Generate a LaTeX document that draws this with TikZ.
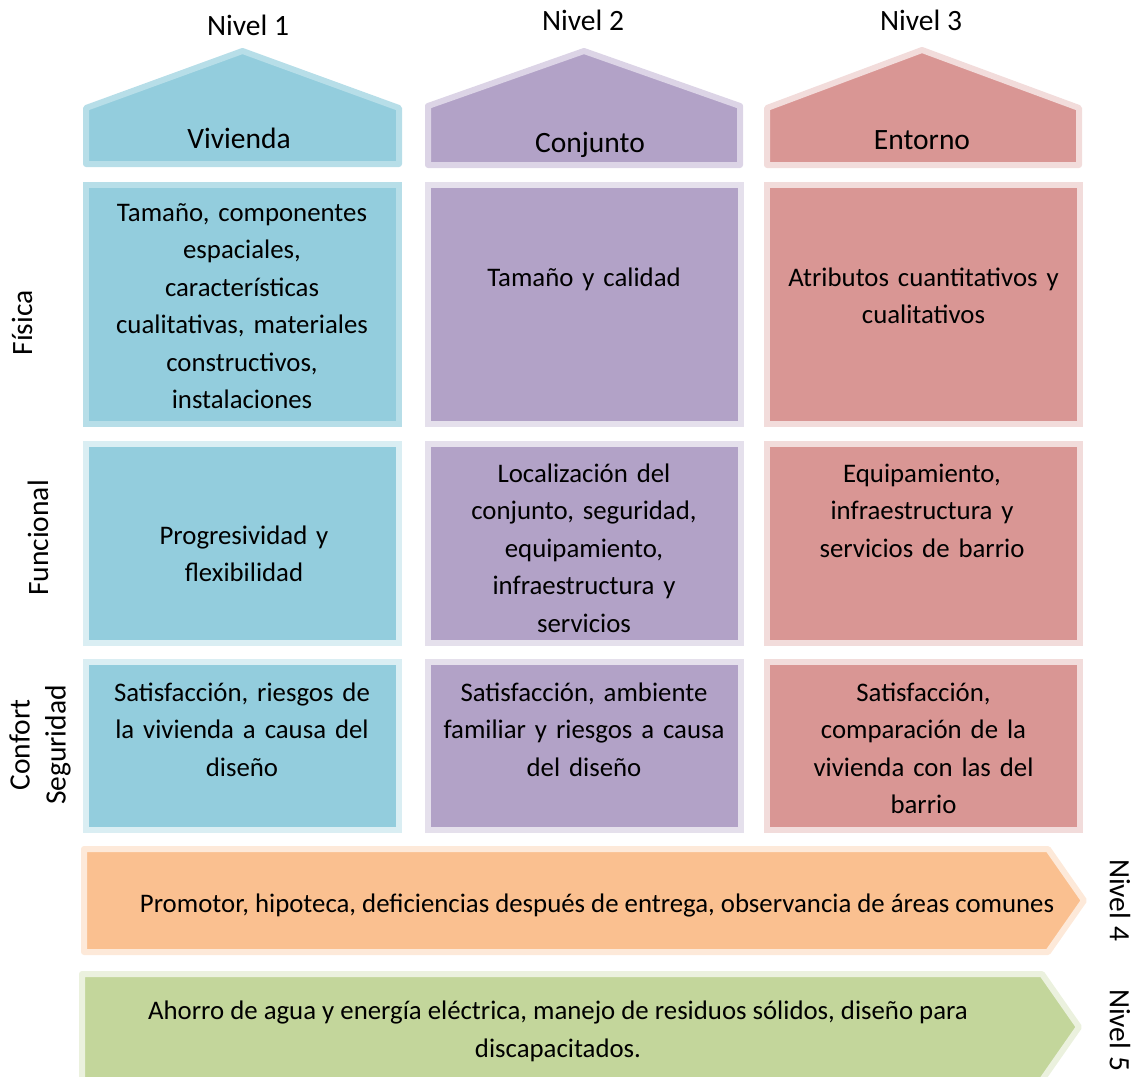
\documentclass[tikz,border=0pt]{standalone}
\usepackage{fontspec}
\setmainfont{Carlito}
\usepackage{tikz}
\usetikzlibrary{positioning}
\definecolor{azul}{HTML}{93CDDD}
\definecolor{azulb}{HTML}{B7DEE8}
\definecolor{azulc}{HTML}{DAEEF3}
\definecolor{lila}{HTML}{B2A2C7}
\definecolor{lilab}{HTML}{DCD4E6}
\definecolor{lilac}{HTML}{E5E0EC}
\definecolor{rojo}{HTML}{D99694}
\definecolor{rojob}{HTML}{F2DCDB}
\definecolor{naranja}{HTML}{FAC090}
\definecolor{naranjab}{HTML}{FDE9D9}
\definecolor{verde}{HTML}{C3D69B}
\definecolor{verdeb}{HTML}{EBF1DE}
\newcommand{\fs}{\fontsize{26.8}{37.5}\selectfont}
\newcommand{\fb}{\fontsize{29.5}{36}\selectfont}

\begin{document}
\begin{tikzpicture}[x=1pt,y=-1pt,
  cell/.style={line width=6pt,inner sep=0pt,minimum width=313pt},
  txt/.style={font=\fs,align=center,text width=310pt,inner sep=0pt,anchor=north,execute at begin node=\strut},
  lbl/.style={font=\fs,align=center,inner sep=0pt},
  big/.style={font=\fb,align=center,inner sep=0pt}]
\useasboundingbox (0,0) rectangle (1134,1076);
% casas
\draw[line width=6pt,line join=round,fill=azul,draw=azulb](86,164)--(86,108)--(242.5,51)--(399,108)--(399,164)--cycle;
\draw[line width=6pt,line join=round,fill=lila,draw=lilab](428,165)--(428,106)--(584,51)--(740,106)--(740,165)--cycle;
\draw[line width=6pt,line join=round,fill=rojo,draw=rojob](767,165)--(767,108)--(922,50)--(1079,108)--(1079,165)--cycle;
\node[big](n1) at (248,25){Nivel 1};
\node[big](n2) at (583,20){Nivel 2};
\node[big](n3) at (921,20){Nivel 3};
\node[big](viv) at (239,138){Vivienda};
\node[big](con) at (590,145){Conjunto};
\node[big](ent) at (922,140){Entorno};
% celdas
\node[cell,minimum height=239pt,fill=azul,draw=azulb](c11) at (242.5,304.5){};
\node[cell,minimum height=239pt,fill=lila,draw=lilac](c12) at (584,304.5){};
\node[cell,minimum height=239pt,fill=rojo,draw=rojob](c13) at (923.5,304.5){};
\node[cell,minimum height=199pt,fill=azul,draw=azulc](c21) at (242.5,543.5){};
\node[cell,minimum height=199pt,fill=lila,draw=lilac](c22) at (584,543.5){};
\node[cell,minimum height=199pt,fill=rojo,draw=rojob](c23) at (923.5,543.5){};
\node[cell,minimum height=168pt,fill=azul,draw=azulc](c31) at (242.5,746){};
\node[cell,minimum height=168pt,fill=lila,draw=lilac](c32) at (584,746){};
\node[cell,minimum height=168pt,fill=rojo,draw=rojob](c33) at (923.5,746){};
\node[txt](t11) at (242,194.75){Tamaño, componentes\\espaciales,\\características\\cualitativas, materiales\\constructivos,\\instalaciones};
\node[txt](t12) at (584,259.75){Tamaño y calidad};
\node[txt](t13) at (923.5,259.75){Atributos cuantitativos y\\cualitativos};
\node[txt](t21) at (244,517.75){Progresividad y\\flexibilidad};
\node[txt](t22) at (584,455.75){Localización del\\conjunto, seguridad,\\equipamiento,\\infraestructura y\\servicios};
\node[txt](t23) at (922,455.75){Equipamiento,\\infraestructura y\\servicios de barrio};
\node[txt](t31) at (242,674.75){Satisfacción, riesgos de\\la vivienda a causa del\\diseño};
\node[txt](t32) at (584,674.75){Satisfacción, ambiente\\familiar y riesgos a causa\\del diseño};
\node[txt](t33) at (923.5,674.75){Satisfacción,\\comparación de la\\vivienda con las del\\barrio};
% filas
\node[big,rotate=90](fis) at (22,323){Física};
\node[big,rotate=90](fun) at (38,538){Funcional};
\node[big,rotate=90](seg) at (40,745){Confort\\Seguridad};
% flechas
\draw[line width=6pt,line join=round,fill=naranja,draw=naranjab](84,849)--(1048,849)--(1084,900.5)--(1048,952)--(84,952)--cycle;
\draw[line width=6pt,line join=round,fill=verde,draw=verdeb](82,974)--(1042,974)--(1079,1027)--(1042,1080)--(82,1080)--cycle;
\node[lbl](prom) at (597,905){Promotor, hipoteca, deficiencias después de entrega, observancia de áreas comunes};
\node[lbl](aho) at (558,1031.5){Ahorro de agua y energía eléctrica, manejo de residuos sólidos, diseño para\\discapacitados.};
\node[big,rotate=-90](n4) at (1120,900){Nivel 4};
\node[big,rotate=-90](n5) at (1120,1030){Nivel 5};
\end{tikzpicture}
\end{document}
